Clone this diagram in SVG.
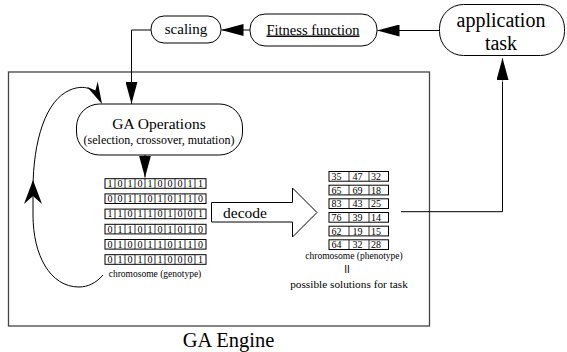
<svg xmlns="http://www.w3.org/2000/svg" width="567" height="352" viewBox="0 0 567 352">
  <defs>
    <marker id="head" markerUnits="userSpaceOnUse" markerWidth="22" markerHeight="12" refX="22" refY="6" orient="auto">
      <path d="M0,0 L22,6 L0,12 z" fill="#000"/>
    </marker>
  </defs>
  <style>
    .node { fill: #fff; stroke: #000; stroke-width: 1; }
    .wire { fill: none; stroke: #000; stroke-width: 1; }
    .cell { fill: #fff; stroke: #000; stroke-width: 1; }
    .div { fill: none; stroke: #000; stroke-width: 0.8; }
    .bit { font-size: 10px; text-anchor: middle; }
    .num { font-size: 10px; }
    .mid { text-anchor: middle; }
  </style>

  <rect width="567" height="352" fill="#fff"/>

  <g font-family="Liberation Serif, Times New Roman, serif" fill="#000">

  <!-- GA engine frame -->
  <g id="engine">
    <rect x="8.5" y="72" width="421" height="254" fill="none" stroke="#444" stroke-width="1.3"/>
    <text x="228.5" y="346.5" class="mid" font-size="20.5">GA Engine</text>
  </g>

  <!-- nodes -->
  <g id="scaling">
    <rect class="node" x="151" y="16" width="70" height="27" rx="13"/>
    <text x="186" y="34" class="mid" font-size="15">scaling</text>
  </g>

  <g id="fitness">
    <rect class="node" x="250" y="14" width="127" height="32" rx="15"/>
    <text x="313" y="34.5" class="mid" font-size="14.5" text-decoration="underline">Fitness function</text>
  </g>

  <g id="application">
    <rect class="node" x="439.5" y="4.5" width="125" height="51" rx="24"/>
    <text x="501" y="27" class="mid" font-size="20">application</text>
    <text x="501" y="50" class="mid" font-size="20">task</text>
  </g>

  <g id="ga-operations">
    <rect class="node" x="76.5" y="104" width="166" height="51" rx="23"/>
    <text x="159" y="128.5" class="mid" font-size="15.5">GA Operations</text>
    <text x="159" y="144" class="mid" font-size="12">(selection, crossover, mutation)</text>
  </g>

  <!-- binary chromosomes -->
  <g id="genotype">
    <g>
      <rect class="cell" x="105" y="178.7" width="101" height="9.6"/>
      <path class="div" d="M115,178.7v9.6M125,178.7v9.6M135,178.7v9.6M145,178.7v9.6M155,178.7v9.6M165,178.7v9.6M175,178.7v9.6M185,178.7v9.6M195,178.7v9.6"/>
      <text class="bit" y="186.9"><tspan x="110">1</tspan><tspan x="120">0</tspan><tspan x="130">1</tspan><tspan x="140">0</tspan><tspan x="150">1</tspan><tspan x="160">0</tspan><tspan x="170">0</tspan><tspan x="180">0</tspan><tspan x="190">1</tspan><tspan x="200.5">1</tspan></text>
    </g>
    <g>
      <rect class="cell" x="105" y="193.9" width="101" height="9.6"/>
      <path class="div" d="M115,193.9v9.6M125,193.9v9.6M135,193.9v9.6M145,193.9v9.6M155,193.9v9.6M165,193.9v9.6M175,193.9v9.6M185,193.9v9.6M195,193.9v9.6"/>
      <text class="bit" y="202.1"><tspan x="110">0</tspan><tspan x="120">0</tspan><tspan x="130">1</tspan><tspan x="140">1</tspan><tspan x="150">0</tspan><tspan x="160">1</tspan><tspan x="170">0</tspan><tspan x="180">1</tspan><tspan x="190">1</tspan><tspan x="200.5">0</tspan></text>
    </g>
    <g>
      <rect class="cell" x="105" y="209.1" width="101" height="9.6"/>
      <path class="div" d="M115,209.1v9.6M125,209.1v9.6M135,209.1v9.6M145,209.1v9.6M155,209.1v9.6M165,209.1v9.6M175,209.1v9.6M185,209.1v9.6M195,209.1v9.6"/>
      <text class="bit" y="217.3"><tspan x="110">1</tspan><tspan x="120">1</tspan><tspan x="130">0</tspan><tspan x="140">1</tspan><tspan x="150">1</tspan><tspan x="160">0</tspan><tspan x="170">1</tspan><tspan x="180">0</tspan><tspan x="190">0</tspan><tspan x="200.5">1</tspan></text>
    </g>
    <g>
      <rect class="cell" x="105" y="224.3" width="101" height="9.6"/>
      <path class="div" d="M115,224.3v9.6M125,224.3v9.6M135,224.3v9.6M145,224.3v9.6M155,224.3v9.6M165,224.3v9.6M175,224.3v9.6M185,224.3v9.6M195,224.3v9.6"/>
      <text class="bit" y="232.5"><tspan x="110">0</tspan><tspan x="120">1</tspan><tspan x="130">1</tspan><tspan x="140">0</tspan><tspan x="150">1</tspan><tspan x="160">0</tspan><tspan x="170">1</tspan><tspan x="180">0</tspan><tspan x="190">1</tspan><tspan x="200.5">0</tspan></text>
    </g>
    <g>
      <rect class="cell" x="105" y="239.5" width="101" height="9.6"/>
      <path class="div" d="M115,239.5v9.6M125,239.5v9.6M135,239.5v9.6M145,239.5v9.6M155,239.5v9.6M165,239.5v9.6M175,239.5v9.6M185,239.5v9.6M195,239.5v9.6"/>
      <text class="bit" y="247.7"><tspan x="110">0</tspan><tspan x="120">1</tspan><tspan x="130">0</tspan><tspan x="140">0</tspan><tspan x="150">1</tspan><tspan x="160">1</tspan><tspan x="170">0</tspan><tspan x="180">1</tspan><tspan x="190">1</tspan><tspan x="200.5">0</tspan></text>
    </g>
    <g>
      <rect class="cell" x="105" y="254.7" width="101" height="9.6"/>
      <path class="div" d="M115,254.7v9.6M125,254.7v9.6M135,254.7v9.6M145,254.7v9.6M155,254.7v9.6M165,254.7v9.6M175,254.7v9.6M185,254.7v9.6M195,254.7v9.6"/>
      <text class="bit" y="262.9"><tspan x="110">0</tspan><tspan x="120">1</tspan><tspan x="130">0</tspan><tspan x="140">1</tspan><tspan x="150">0</tspan><tspan x="160">1</tspan><tspan x="170">0</tspan><tspan x="180">0</tspan><tspan x="190">0</tspan><tspan x="200.5">1</tspan></text>
    </g>
    <text x="155" y="277" class="mid" font-size="9.5">chromosome (genotype)</text>
  </g>

  <!-- decode block arrow -->
  <g id="decode">
    <path d="M211.5,202.5 H292.5 V188 L317,212.5 L292.5,237 V222 H211.5 Z" fill="#fff" stroke="#000" stroke-width="1"/>
    <text x="245" y="217.5" class="mid" font-size="15.5">decode</text>
  </g>

  <!-- decoded values -->
  <g id="phenotype">
    <g>
      <rect class="cell" x="329" y="171.5" width="59.5" height="9.7"/>
      <path class="div" d="M349,171.5v9.7M369,171.5v9.7"/>
      <text class="num" y="180"><tspan x="331.5">35</tspan><tspan x="352.5">47</tspan><tspan x="371">32</tspan></text>
    </g>
    <g>
      <rect class="cell" x="329" y="185.2" width="59.5" height="9.7"/>
      <path class="div" d="M349,185.2v9.7M369,185.2v9.7"/>
      <text class="num" y="193.7"><tspan x="331.5">65</tspan><tspan x="352.5">69</tspan><tspan x="371">18</tspan></text>
    </g>
    <g>
      <rect class="cell" x="329" y="198.8" width="59.5" height="9.7"/>
      <path class="div" d="M349,198.8v9.7M369,198.8v9.7"/>
      <text class="num" y="207.3"><tspan x="331.5">83</tspan><tspan x="352.5">43</tspan><tspan x="371">25</tspan></text>
    </g>
    <g>
      <rect class="cell" x="329" y="212.5" width="59.5" height="9.7"/>
      <path class="div" d="M349,212.5v9.7M369,212.5v9.7"/>
      <text class="num" y="221"><tspan x="331.5">76</tspan><tspan x="352.5">39</tspan><tspan x="371">14</tspan></text>
    </g>
    <g>
      <rect class="cell" x="329" y="226.2" width="59.5" height="9.7"/>
      <path class="div" d="M349,226.2v9.7M369,226.2v9.7"/>
      <text class="num" y="234.7"><tspan x="331.5">62</tspan><tspan x="352.5">19</tspan><tspan x="371">15</tspan></text>
    </g>
    <g>
      <rect class="cell" x="329" y="239.8" width="59.5" height="9.7"/>
      <path class="div" d="M349,239.8v9.7M369,239.8v9.7"/>
      <text class="num" y="248.3"><tspan x="331.5">64</tspan><tspan x="352.5">32</tspan><tspan x="371">28</tspan></text>
    </g>
    <text x="354" y="258.5" class="mid" font-size="9.5">chromosome (phenotype)</text>
    <text x="347" y="273.3" class="mid" font-size="10" font-family="Liberation Sans, Arial, sans-serif">II</text>
    <text x="349" y="287.5" class="mid" font-size="11.3">possible solutions for task</text>
  </g>

  </g>

  <!-- connectors -->
  <g id="connectors">
    <path class="wire" d="M439.5,30.5 H377.5" marker-end="url(#head)"/>
    <path class="wire" d="M250,30 H221.5" marker-end="url(#head)"/>
    <path class="wire" d="M151,30 H131.5 V103.8" marker-end="url(#head)"/>
    <path class="wire" d="M145,155 V177.5" marker-end="url(#head)"/>
    <path d="M401,211.7 H502.5 V82" fill="none" stroke="#000" stroke-width="1"/>
    <path d="M502.5,82 V58" fill="none" stroke="#888" stroke-width="1.2" marker-end="url(#head)"/>
    <!-- generation loop -->
    <path class="wire" d="M103,275 C96,283 88,287 79,287 C50,287 33,255 33,215 L33,190 C33,140 46,100 70,90 C84,84 95,89 99,98"/>
    <path d="M33,180 L42,204 L33,196 L24,204 Z" fill="#000"/>
    <path d="M102,104 L97.7,81.6 L95.4,90.5 L86.9,86.8 Z" fill="#000"/>
  </g>
</svg>
